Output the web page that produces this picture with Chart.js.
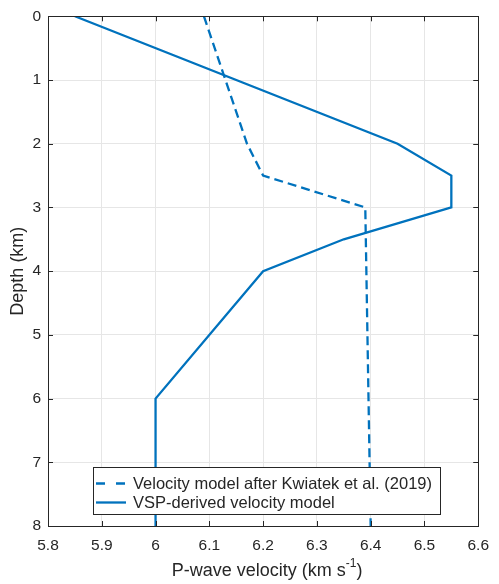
<!DOCTYPE html>
<html>
<head>
<meta charset="utf-8">
<script src="https://cdn.jsdelivr.net/npm/chart.js@4/dist/chart.umd.min.js"></script>
<style>
  html, body { margin: 0; padding: 0; background: #fff; }
  #wrap { width: 499px; height: 584px; }
</style>
</head>
<body>
<div id="wrap"><canvas id="mycanvas" width="499" height="584"></canvas></div>
<script>
// velocity models
const depthKwiatek = [0, 1, 2, 2.5, 3, 8];
const velKwiatek = [6.09, 6.13, 6.17, 6.2, 6.39, 6.40];
const depthVSP = [0, 2, 2.5, 3, 3.5, 4, 6, 8];
const velVSP = [5.85, 6.45, 6.55, 6.55, 6.35, 6.2, 6.0, 6.0];
const seriesLabels = ['Velocity model after Kwiatek et al. (2019)', 'VSP-derived velocity model'];
const xTicks = [5.8, 5.9, 6.0, 6.1, 6.2, 6.3, 6.4, 6.5, 6.6];
const yTicks = [0, 1, 2, 3, 4, 5, 6, 7, 8];

const BLUE = '#0072BD';
const AXIS = '#262626';
const FONT = '"Liberation Sans", Arial, sans-serif';

function toPoints(xs, ys) {
    return xs.map(function (v, i) { return {x: v, y: ys[i]}; });
}

// box, inward ticks, axis titles and legend (matlab look)
const matlabBits = {
    id: 'matlabBits',
    afterDraw: function (chart) {
        var ctx = chart.ctx;
        var a = chart.chartArea;
        var sx = chart.scales.x, sy = chart.scales.y;
        ctx.save();
        ctx.strokeStyle = AXIS;
        ctx.lineWidth = 1;
        ctx.beginPath();
        xTicks.forEach(function (t) {
            var px = Math.round(sx.getPixelForValue(t)) + 0.5;
            ctx.moveTo(px, a.bottom); ctx.lineTo(px, a.bottom - 5);
            ctx.moveTo(px, a.top); ctx.lineTo(px, a.top + 5);
        });
        yTicks.forEach(function (t) {
            var py = Math.round(sy.getPixelForValue(t)) + 0.5;
            ctx.moveTo(a.left, py); ctx.lineTo(a.left + 5, py);
            ctx.moveTo(a.right, py); ctx.lineTo(a.right - 5, py);
        });
        ctx.stroke();
        ctx.strokeRect(Math.round(a.left) + 0.5, Math.round(a.top) + 0.5,
            Math.round(a.right - a.left), Math.round(a.bottom - a.top));

        // x title with superscript
        ctx.fillStyle = AXIS;
        ctx.textBaseline = 'middle';
        var big = '18px ' + FONT, small = '12px ' + FONT;
        var t1 = 'P-wave velocity (km s', t2 = '-1', t3 = ')';
        ctx.font = big; var w1 = ctx.measureText(t1).width, w3 = ctx.measureText(t3).width;
        ctx.font = small; var w2 = ctx.measureText(t2).width;
        var cx = (a.left + a.right) / 2 + 4;
        var x0 = cx - (w1 + w2 + w3) / 2;
        var ty = 571;
        ctx.font = big; ctx.textAlign = 'left';
        ctx.fillText(t1, x0, ty);
        ctx.font = small; ctx.fillText(t2, x0 + w1, ty - 7);
        ctx.font = big; ctx.fillText(t3, x0 + w1 + w2, ty);

        // y title
        ctx.save();
        ctx.translate(18, (a.top + a.bottom) / 2);
        ctx.rotate(-Math.PI / 2);
        ctx.textAlign = 'center';
        ctx.font = big;
        ctx.fillText('Depth (km)', 0, 0);
        ctx.restore();

        // legend
        var lx = 93.5, ly = 467.5, lw = 347, lh = 47;
        ctx.fillStyle = '#fff';
        ctx.fillRect(lx, ly, lw, lh);
        ctx.strokeStyle = '#262626';
        ctx.strokeRect(lx, ly, lw, lh);
        var rows = [483.5, 502.5];
        chart.data.datasets.forEach(function (ds, i) {
            ctx.strokeStyle = ds.borderColor;
            ctx.lineWidth = ds.borderWidth;
            // matlab shows the dashed sample as two dashes
            ctx.setLineDash(ds.borderDash ? [9, 11] : []);
            ctx.beginPath();
            ctx.moveTo(96, rows[i]); ctx.lineTo(126, rows[i]);
            ctx.stroke();
            ctx.setLineDash([]);
            ctx.fillStyle = AXIS;
            ctx.font = '16.5px ' + FONT;
            ctx.textAlign = 'left';
            ctx.fillText(ds.label, 133, rows[i] + 1);
        });
        ctx.restore();
    }
};

var ctx_live = document.getElementById('mycanvas');

var myChart = new Chart(ctx_live, {
    type: 'scatter',
    data: {
        datasets: [
            {
                label: seriesLabels[0],
                data: toPoints(velKwiatek, depthKwiatek),
                showLine: true,
                borderColor: BLUE,
                borderWidth: 2.3,
                borderDash: [9, 5],
                pointRadius: 0,
                tension: 0
            },
            {
                label: seriesLabels[1],
                data: toPoints(velVSP, depthVSP),
                showLine: true,
                borderColor: BLUE,
                borderWidth: 2.3,
                pointRadius: 0,
                tension: 0
            }
        ]
    },
    options: {
        responsive: false,
        animation: false,
        layout: {padding: {top: 13, right: 12, left: 0, bottom: 0}},
        plugins: {
            legend: {display: false},
            tooltip: {enabled: false}
        },
        scales: {
            x: {
                type: 'linear',
                min: 5.8,
                max: 6.6,
                afterBuildTicks: function (scale) {
                    scale.ticks = xTicks.map(function (v) { return {value: v}; });
                },
                afterFit: function (scale) { scale.height = 58; },
                grid: {color: '#e6e6e6', drawTicks: false},
                border: {display: false},
                ticks: {
                    color: AXIS,
                    padding: 10,
                    maxRotation: 0,
                    font: {family: FONT, size: 15.5},
                    callback: function (v) { return String(Math.round(v * 10) / 10); }
                }
            },
            y: {
                type: 'linear',
                reverse: true,
                min: 0,
                max: 8,
                afterBuildTicks: function (scale) {
                    scale.ticks = yTicks.map(function (v) { return {value: v}; });
                },
                afterFit: function (scale) { scale.width = 48; },
                grid: {color: '#e6e6e6', drawTicks: false},
                border: {display: false},
                ticks: {
                    color: AXIS,
                    padding: 7,
                    font: {family: FONT, size: 15.5}
                }
            }
        }
    },
    plugins: [matlabBits]
});
</script>
</body>
</html>
